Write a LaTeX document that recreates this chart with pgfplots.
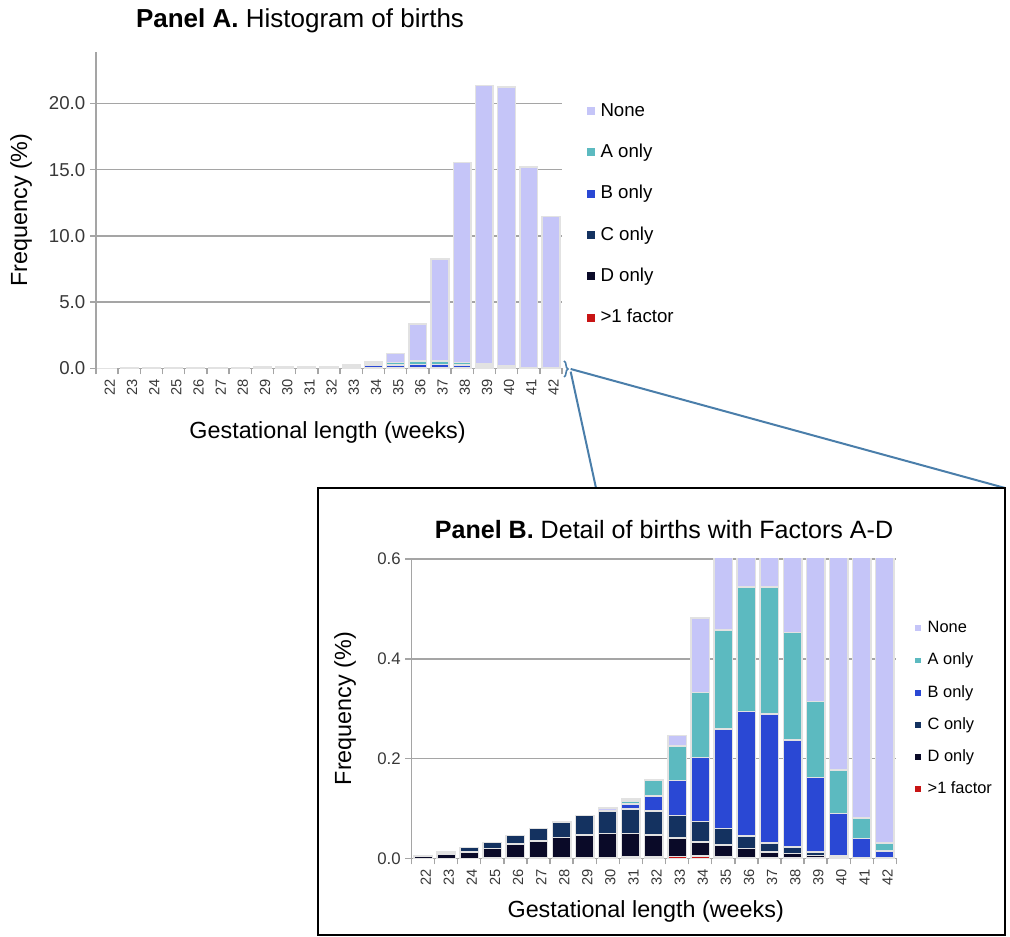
\documentclass[border=0pt]{standalone}
\usepackage{fontspec}
\setmainfont{Liberation Sans}
\usepackage{pgfplots}
\pgfplotsset{compat=1.18}
\usepackage{pgfplotstable}
\usetikzlibrary{decorations.pathreplacing}

\definecolor{cNone}{RGB}{197,197,248}
\definecolor{cA}{RGB}{92,186,192}
\definecolor{cB}{RGB}{42,72,212}
\definecolor{cC}{RGB}{20,50,96}
\definecolor{cD}{RGB}{10,10,40}
\definecolor{cR}{RGB}{200,20,20}
\definecolor{cEdge}{RGB}{226,226,226}
\definecolor{cGrid}{RGB}{165,165,165}
\definecolor{cLink}{RGB}{74,126,170}

\pgfplotstableread{
wk R D C B A N
22 0 0.004 0.002 0 0 0
23 0 0.009 0.004 0 0 0
24 0 0.013 0.009 0 0 0
25 0.001 0.019 0.012 0 0 0
26 0.001 0.028 0.017 0 0 0
27 0.001 0.034 0.025 0 0 0
28 0.001 0.041 0.031 0 0 0
29 0.002 0.045 0.039 0 0 0
30 0.002 0.048 0.044 0.001 0.001 0.005
31 0.003 0.047 0.049 0.010 0.006 0.004
32 0.003 0.044 0.048 0.030 0.032 0
33 0.004 0.037 0.045 0.070 0.069 0.021
34 0.005 0.028 0.041 0.128 0.130 0.150
35 0.003 0.024 0.033 0.199 0.199 0.672
36 0.002 0.018 0.025 0.249 0.250 2.796
37 0.001 0.012 0.018 0.258 0.255 7.696
38 0.001 0.009 0.013 0.214 0.216 15.077
39 0.001 0.005 0.007 0.149 0.152 21.046
40 0 0.002 0.003 0.085 0.087 21.053
41 0 0.001 0.001 0.038 0.041 15.119
42 0 0.001 0.001 0.013 0.016 11.449
}\births

\pgfplotsset{
  panel/.style={
    scale only axis, anchor=south west,
    ybar stacked, bar width=0.8,
    xmin=21.5, xmax=42.5, ymin=0,
    axis x line*=bottom, axis y line*=left,
    axis line style={draw=cGrid, line width=1.1pt},
    ymajorgrids, grid style={draw=cGrid, line width=1.1pt},
    xtick={22,...,42},
    minor xtick={21.5,22.5,...,42.5},
    tick align=outside,
    major tick length=4.5pt, minor tick length=4.5pt,
    every tick/.style={draw=cGrid, line width=1.1pt},
    major x tick style={draw=none},
    xticklabel style={rotate=90, anchor=east, font=\fontsize{11}{13}\selectfont, text=black!78, yshift=-2pt},
    yticklabel style={text=black!78},
    y tick label style={/pgf/number format/fixed, /pgf/number format/fixed zerofill, /pgf/number format/precision=1},
    /pgf/number format/assume math mode=true,
    legend cell align=left, reverse legend,
  },
  seg/.style={draw=cEdge, line width=1.1pt, fill=#1},
}

\begin{document}
\begin{tikzpicture}
\useasboundingbox (0,0) rectangle (757.5pt,702.75pt);

% ---------------- Panel A ----------------
\begin{axis}[panel,
  at={(72pt,426.5pt)}, width=349.5pt, height=237.45pt,
  ymax=23.9, ytick={0,5,10,15,20},
  yticklabel style={font=\fontsize{14}{16}\selectfont},
  xlabel={Gestational length (weeks)}, ylabel={Frequency (\%)},
  xlabel style={at={(axis description cs:0.497,-0.204)}, anchor=center, font=\fontsize{17.5}{20}\selectfont},
  ylabel style={at={(axis description cs:-0.161,0.5)}, anchor=center, font=\fontsize{17.5}{20}\selectfont},
  legend image code/.code={\fill[#1,draw=none] (0pt,-3pt) rectangle (6pt,3pt);},
  legend style={draw=none, fill=none, inner sep=0pt, at={(1.052,0.842)}, anchor=north west,
    font=\fontsize{14}{16}\selectfont, row sep=17.5pt, column sep=4.5pt,
    nodes={inner sep=0pt, text height=10.5pt, text depth=3pt}},
]
\addplot[seg=cR] table[x=wk,y=R]{\births}; \addlegendentry{>1 factor}
\addplot[seg=cD] table[x=wk,y=D]{\births}; \addlegendentry{D only}
\addplot[seg=cC] table[x=wk,y=C]{\births}; \addlegendentry{C only}
\addplot[seg=cB] table[x=wk,y=B]{\births}; \addlegendentry{B only}
\addplot[seg=cA] table[x=wk,y=A]{\births}; \addlegendentry{A only}
\addplot[seg=cNone] table[x=wk,y=N]{\births}; \addlegendentry{None}
\end{axis}

% ---------------- Panel B ----------------
\begin{axis}[panel,
  at={(308.6pt,59pt)}, width=363.75pt, height=224.5pt,
  ymax=0.6, ytick={0,0.2,0.4,0.6},
  yticklabel style={font=\fontsize{12.6}{15}\selectfont},
  xlabel={Gestational length (weeks)}, ylabel={Frequency (\%)},
  xlabel style={at={(axis description cs:0.483,-0.176)}, anchor=center, font=\fontsize{17.5}{20}\selectfont},
  ylabel style={at={(axis description cs:-0.137,0.5)}, anchor=center, font=\fontsize{17.5}{20}\selectfont},
  legend image code/.code={\fill[#1,draw=none] (0pt,-2.2pt) rectangle (4.4pt,2.2pt);},
  legend style={draw=none, fill=none, inner sep=0pt, at={(1.038,0.795)}, anchor=north west,
    font=\fontsize{12.3}{14}\selectfont, row sep=12.4pt, column sep=5pt,
    nodes={inner sep=0pt, text height=9.1pt, text depth=2.6pt}},
]
\addplot[seg=cR] table[x=wk,y=R]{\births}; \addlegendentry{>1 factor}
\addplot[seg=cD] table[x=wk,y=D]{\births}; \addlegendentry{D only}
\addplot[seg=cC] table[x=wk,y=C]{\births}; \addlegendentry{C only}
\addplot[seg=cB] table[x=wk,y=B]{\births}; \addlegendentry{B only}
\addplot[seg=cA] table[x=wk,y=A]{\births}; \addlegendentry{A only}
\addplot[seg=cNone] table[x=wk,y=N]{\births}; \addlegendentry{None}
\end{axis}

% titles
\node[font=\fontsize{19.5}{22}\selectfont, anchor=center] at (225pt,687pt) {\textbf{Panel A.} Histogram of births};
\node[font=\fontsize{18.8}{22}\selectfont, anchor=center] at (498pt,305.25pt) {\textbf{Panel B.} Detail of births with Factors A-D};

% zoom connector
\draw[cLink, line width=1.2pt, decorate, decoration={brace, amplitude=3pt}] (423pt,432pt) -- (423pt,420pt);
\draw[cLink, line width=1.5pt] (428pt,426pt) -- (753.75pt,336.75pt);
\draw[cLink, line width=1.5pt] (428pt,424pt) -- (447pt,336.75pt);
\draw[black, line width=1.9pt] (238.5pt,1.5pt) rectangle (753.75pt,336.75pt);
\end{tikzpicture}
\end{document}
